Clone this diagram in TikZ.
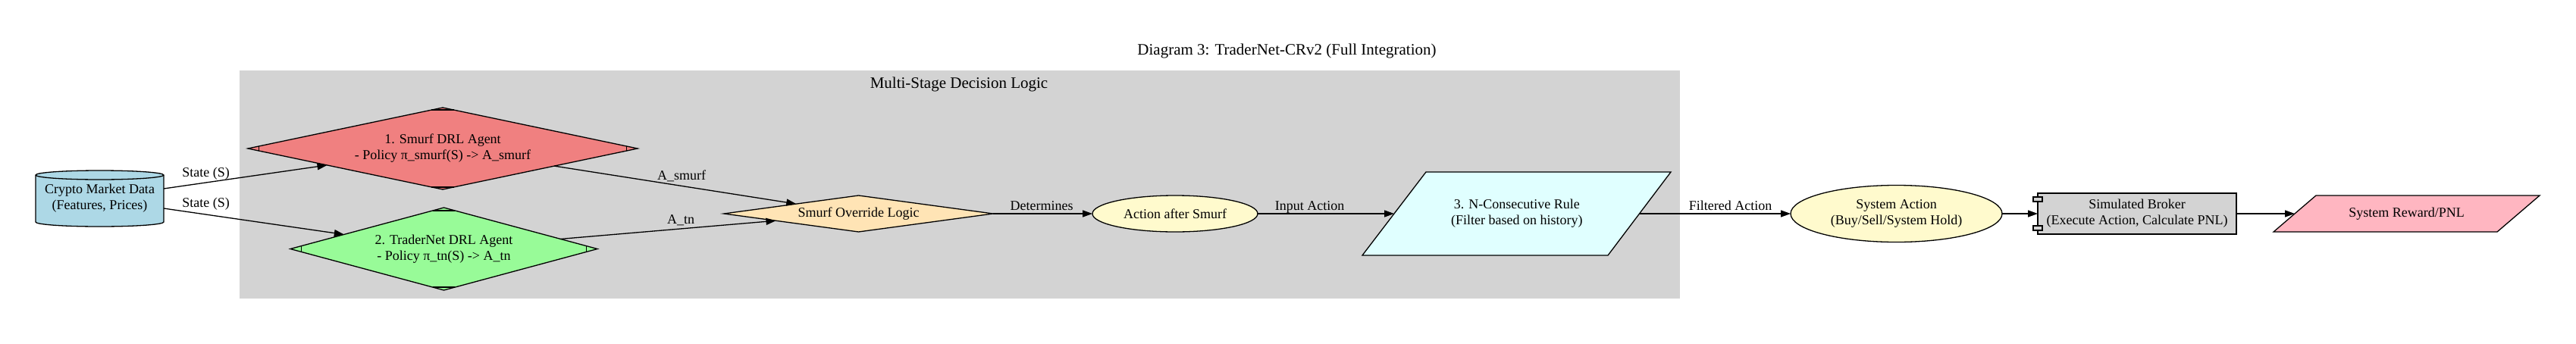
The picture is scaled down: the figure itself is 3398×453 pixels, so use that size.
\documentclass[tikz,border=0pt]{standalone}
\usepackage{fontspec}
\setmainfont{Liberation Serif}
\usetikzlibrary{shapes.geometric,arrows.meta,calc}
\definecolor{clgrey}{HTML}{D3D3D3}
\definecolor{lcoral}{HTML}{F08080}
\definecolor{pgreen}{HTML}{98FB98}
\definecolor{moccasinc}{HTML}{FFE4B5}
\definecolor{lchiffon}{HTML}{FFFACD}
\definecolor{lcyan}{HTML}{E0FFFF}
\definecolor{lblue}{HTML}{ADD8E6}
\definecolor{lpink}{HTML}{FFB6C1}
\pgfdeclarelayer{cl}
\pgfdeclarelayer{bg}
\pgfsetlayers{cl,bg,main}
\newcommand\mdticks[3]{%
  \draw[shapeline] ($(#1.west)+(#2,-#3)$) -- ($(#1.west)+(#2,#3)$);
  \draw[shapeline] ($(#1.east)+(-#2,-#3)$) -- ($(#1.east)+(-#2,#3)$);
  \draw[shapeline] ($(#1.north)+(-#2,#3)$) -- ($(#1.north)+(#2,#3)$);
  \draw[shapeline] ($(#1.south)+(-#2,-#3)$) -- ($(#1.south)+(#2,-#3)$);
}
\begin{document}
\begin{tikzpicture}[x=1pt,y=-1pt,
  shapeline/.style={line width=1.3pt},
  arr/.style={line width=1.3pt,-{Triangle[length=13pt,width=9pt]}},
  txt/.style={font=\fontsize{18}{21}\selectfont,align=center,inner sep=0pt,outer sep=0pt},
  dia/.style={txt,shape=diamond,draw,line width=1.3pt},
  ell/.style={txt,shape=ellipse,draw,line width=1.3pt},
  lab/.style={font=\fontsize{18}{21}\selectfont,inner sep=0pt,anchor=base},
  ttl/.style={font=\fontsize{21}{25}\selectfont,inner sep=0pt,anchor=base}]
\useasboundingbox (0,0) rectangle (3398,453);
\begin{pgfonlayer}{cl}
\fill[white] (0,0) rectangle (3398,453);
\fill[clgrey] (316,93) rectangle (2216,394);
\end{pgfonlayer}
\node[ttl] (title) at (1697.5,72) {Diagram 3: TraderNet-CRv2 (Full Integration)};
\node[ttl] (cltitle) at (1265,116) {Multi-Stage Decision Logic};
% data cylinder
\node[txt,minimum width=169pt,minimum height=74pt] (data) at (131.5,262) {Crypto Market Data\\(Features, Prices)};
\begin{pgfonlayer}{bg}
\draw[shapeline,fill=lblue] (47,231) -- (47,293) arc[start angle=180,end angle=0,x radius=84.5,y radius=6] -- (216,231) arc[start angle=0,end angle=-180,x radius=84.5,y radius=6] -- cycle;
\draw[shapeline] (47,231) arc[start angle=180,end angle=0,x radius=84.5,y radius=6];
\end{pgfonlayer}
% agents
\node[dia,fill=lcoral,minimum width=514pt,minimum height=108pt,aspect=4.76] (smurf) at (584,196) {1. Smurf DRL Agent\\- Policy π\_smurf(S) -> A\_smurf};
\mdticks{smurf}{14.7}{3.1}
\node[dia,fill=pgreen,minimum width=405pt,minimum height=109pt,aspect=3.72] (tn) at (585.5,328.5) {2. TraderNet DRL Agent\\- Policy π\_tn(S) -> A\_tn};
\mdticks{tn}{14.5}{3.9}
\node[dia,fill=moccasinc,minimum width=355pt,minimum height=48pt,aspect=7.4] (ovr) at (1132.5,282) {Smurf Override Logic};
\node[ell,fill=lchiffon,minimum width=218pt,minimum height=48pt] (aas) at (1550,282) {Action after Smurf};
% N-consecutive parallelogram
\node[txt,minimum width=323.5pt,minimum height=110pt] (ncr) at (2000.75,282) {3. N-Consecutive Rule\\(Filter based on history)};
\begin{pgfonlayer}{bg}
\draw[shapeline,fill=lcyan] (1797,337) -- (2121,337) -- (2204,227) -- (1881,227) -- cycle;
\end{pgfonlayer}
\node[ell,fill=lchiffon,minimum width=279pt,minimum height=75pt] (sys) at (2501.5,282) {System Action\\(Buy/Sell/System Hold)};
\node[txt,draw,line width=1.3pt,fill=clgrey,minimum width=262pt,minimum height=54pt] (brk) at (2819,282) {Simulated Broker\\(Execute Action, Calculate PNL)};
\draw[shapeline,fill=clgrey] ($(brk.north west)+(-6,5)$) rectangle ($(brk.north west)+(6,11)$);
\draw[shapeline,fill=clgrey] ($(brk.south west)+(-6,-11)$) rectangle ($(brk.south west)+(6,-5)$);
\node[txt,minimum width=295pt,minimum height=48pt] (rwd) at (3174.5,282) {System Reward/PNL};
\begin{pgfonlayer}{bg}
\draw[shapeline,fill=lpink] (2999,306) -- (3294,306) -- (3350,258) -- (3055,258) -- cycle;
\end{pgfonlayer}
% connectors
\draw[arr] ($(data.east)+(0,-13)$) -- (smurf);
\draw[arr] ($(data.east)+(0,13)$) -- (tn);
\draw[arr] (smurf) -- (ovr);
\draw[arr] (tn) -- (ovr);
\draw[arr] (ovr) -- (aas);
\draw[arr] (aas) -- (ncr);
\draw[arr] (ncr) -- (sys);
\draw[arr] (sys) -- (brk);
\draw[arr] (brk) -- (rwd);
% labels
\node[lab] (l1) at (271.5,233) {State (S)};
\node[lab] (l2) at (271.5,273) {State (S)};
\node[lab] (l3) at (899,237) {A\_smurf};
\node[lab] (l4) at (898,295) {A\_tn};
\node[lab] (l5) at (1374,277) {Determines};
\node[lab] (l6) at (1727.5,277) {Input Action};
\node[lab] (l7) at (2282.5,277) {Filtered Action};
\end{tikzpicture}
\end{document}
